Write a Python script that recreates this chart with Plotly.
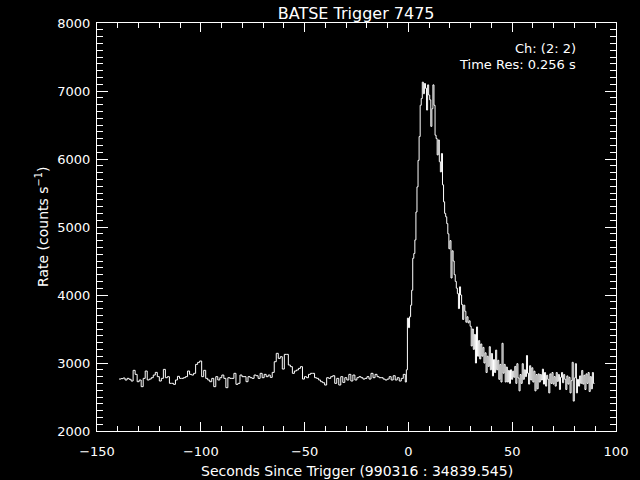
import numpy as np
import plotly.graph_objects as go

# ---------------- data ----------------
# pre-trigger rates (~1 s bins), counts/s
pre_rate = [
    2764, 2770, 2779, 2750, 2774, 2760, 2735, 2892, 2833, 2725,
    2750, 2652, 2774, 2882, 2750, 2764, 2784, 2823, 2862, 2799,
    2735, 2774, 2906, 2784, 2799, 2701, 2701, 2686, 2750, 2804,
    2774, 2774, 2784, 2799, 2882, 2833, 2823, 2848, 2980, 3009,
    3029, 2799, 2892, 2774, 2750, 2725, 2774, 2652, 2799, 2750,
    2784, 2823, 2774, 2637, 2784, 2774, 2774, 2848, 2686, 2701,
    2823, 2799, 2799, 2725, 2799, 2784, 2774, 2823, 2813, 2774,
    2848, 2784, 2833, 2799, 2823, 2789, 2862, 3019, 3142, 3068,
    3093, 2911, 3127, 3127, 2970, 2946, 2848, 2882, 2897, 2921,
    2946, 2764, 2799, 2784, 2833, 2848, 2848, 2784, 2774, 2750,
    2725, 2710, 2676, 2784, 2774, 2799, 2813, 2701, 2774, 2676,
    2799, 2715, 2784, 2750, 2833, 2735, 2823, 2750, 2784, 2799,
    2784, 2764, 2774, 2799, 2764, 2848, 2784, 2833, 2799, 2784,
    2784, 2764, 2750, 2764, 2799, 2750, 2813, 2750, 2784, 2735,
    2774, 2833,
]
pre_start, pre_end = -139.4, -1.5

# post-trigger rates (0.512 s bins starting at the trigger rise)
post_rate = [
    2720, 2900, 3660, 3520, 3680, 3850, 4070, 4540, 4610, 4810,
    5220, 5590, 5980, 6330, 6790, 6890, 7130, 6960, 7110, 7040,
    6720, 7090, 6940, 6870, 6480, 6740, 7090, 6790, 6350, 6300,
    6060, 6280, 5960, 5810, 6080, 5620, 5370, 5200, 5150, 5050,
    4900, 4680, 4800, 4250, 4650, 4500, 4300, 4200, 4100, 4020,
    3800, 4120, 4000, 3860, 3640, 3850, 3760, 3600, 3680, 3590,
    3620, 3540, 3250, 3500, 3200, 3420, 3000, 3530, 3100, 3330,
    3060, 3280, 3100, 3230, 3000, 3150, 2860, 3100, 2950, 3240,
    2900, 3140, 2810, 3050, 2860, 3190, 2900, 3040, 2760, 2980,
    2720, 3290, 2850, 2980, 2720, 2940, 2720, 2890, 2700, 2900,
    2760, 2880, 2790, 2950, 2700, 2990, 2780, 2590, 2830, 2700,
    2990, 2760, 2900, 2800, 3110, 2850, 2690, 2960, 2750, 2930,
    2720, 2880, 2590, 2830, 2620, 2840, 2720, 2830, 2750, 2910,
    2690, 2860, 2660, 2820, 2760, 2560, 2840, 2700, 2860, 2690,
    2800, 2660, 2860, 2730, 2830, 2610, 2790, 2860, 2710, 2830,
    2760, 2610, 2810, 2690, 2790, 2560, 2740, 3010, 2440, 2780,
    2990, 2560, 2760, 2660, 2810, 2700, 2890, 2690, 2820, 2610,
    2840, 2700, 2860, 2580, 2800, 2620, 2860, 2700,
]
post_start, post_bin = -1.5, 0.512

x_ticks = [-150, -100, -50, 0, 50, 100]
y_ticks = [2000, 3000, 4000, 5000, 6000, 7000, 8000]

# ---------------- build step curve ----------------
pre_edges = np.linspace(pre_start, pre_end, len(pre_rate) + 1)
post_edges = post_start + post_bin * np.arange(len(post_rate) + 1)
t = np.concatenate([pre_edges[:-1], post_edges])
r = np.concatenate([pre_rate, post_rate, [post_rate[-1]]])

FONT = "DejaVu Sans"
W = "white"

fig = go.Figure()
fig.add_trace(go.Scatter(x=t, y=r, mode="lines", line=dict(color=W, width=1, shape="hv"),
                         hoverinfo="skip", showlegend=False))

axis_common = dict(showline=True, linecolor=W, linewidth=1, mirror="ticks",
                   ticks="inside", tickcolor=W, tickwidth=1, showgrid=False,
                   zeroline=False, tickfont=dict(family=FONT, size=13, color=W))

fig.update_xaxes(range=[-150, 100], tickmode="array", tickvals=x_ticks,
                 ticklen=9, ticklabelstandoff=8,
                 minor=dict(dtick=10, tick0=0, ticks="inside", ticklen=5, tickcolor=W,
                            tickwidth=1, showgrid=False),
                 **axis_common)
fig.update_yaxes(range=[2000, 8000], tickmode="array", tickvals=y_ticks,
                 ticklen=11, ticklabelstandoff=3,
                 minor=dict(dtick=100, tick0=0, ticks="inside", ticklen=6, tickcolor=W,
                            tickwidth=1, showgrid=False),
                 **axis_common)

fig.update_layout(
    width=640, height=480,
    paper_bgcolor="black", plot_bgcolor="black",
    margin=dict(l=97, r=24, t=23, b=49),
    font=dict(family=FONT, color=W, size=13),
    title=dict(text="BATSE Trigger 7475", x=0.5565, xanchor="center",
               y=1 - 13 / 480, yanchor="middle", yref="container",
               font=dict(family=FONT, size=16, color=W)),
    annotations=[
        dict(text="Seconds Since Trigger (990316 : 34839.545)", xref="paper", yref="paper",
             x=0.5, y=-40 / 408, xanchor="center", yanchor="middle", showarrow=False,
             font=dict(family=FONT, size=14, color=W)),
        dict(text="Rate (counts s<sup>\u22121</sup>)", xref="paper", yref="paper",
             x=-55 / 519, y=0.5, xanchor="center", yanchor="middle", textangle=-90,
             showarrow=False, font=dict(family=FONT, size=14, color=W)),
        dict(text="Ch: (2: 2)", xref="paper", yref="paper",
             x=(578 - 97) / 519, y=(431 - 48) / 408, xanchor="right", yanchor="middle",
             showarrow=False, font=dict(family=FONT, size=13, color=W)),
        dict(text="Time Res: 0.256 s", xref="paper", yref="paper",
             x=(578 - 97) / 519, y=(431 - 65) / 408, xanchor="right", yanchor="middle",
             showarrow=False, font=dict(family=FONT, size=13, color=W)),
    ],
)

fig.write_html(
    "out.html",
    config={"displayModeBar": False},
    post_script="document.body.style.margin='0';document.body.style.padding='0';"
                "document.body.style.background='black';"
                "document.documentElement.style.background='black';",
)
